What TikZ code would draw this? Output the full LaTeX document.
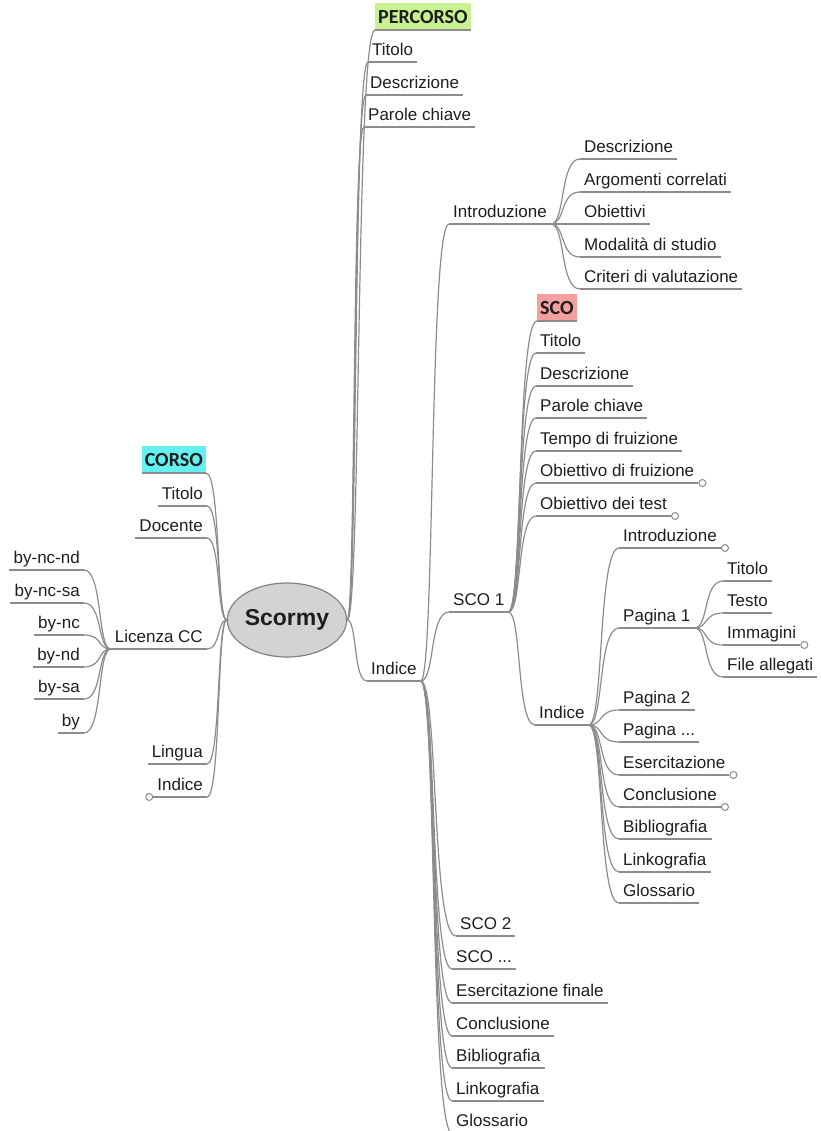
\documentclass[tikz,border=0pt]{standalone}
\usepackage{fontspec}
\setmainfont{Liberation Sans}
\newfontfamily\hlfont{Carlito}
\usetikzlibrary{calc,shapes.geometric}
\definecolor{ln}{RGB}{140,140,140}
\definecolor{txt}{RGB}{30,30,30}
\definecolor{hlgreen}{RGB}{200,242,145}
\definecolor{hlcyan}{RGB}{100,240,240}
\definecolor{hlpink}{RGB}{244,160,160}
\definecolor{ellfill}{RGB}{211,211,211}
\definecolor{ellline}{RGB}{130,130,130}
\newcommand\linkto[2]{\draw[br] (#1) .. controls ($(#1)!0.5!(#1-|#2)$) and ($(#1|-#2)!0.3!(#2)$) .. (#2);}
\begin{document}
\begin{tikzpicture}[x=1pt,y=-1pt,
 topic/.style={inner xsep=4pt,inner ysep=0pt,text height=12pt,text depth=6pt,text=txt,font=\fontsize{17}{20}\selectfont},
 hl/.style={inner xsep=3pt,inner ysep=0pt,text height=21pt,text depth=6pt,text=txt,font=\hlfont\bfseries\fontsize{20}{24}\selectfont},
 br/.style={draw=ln,line width=1.2pt},
 ul/.style={draw=ln,line width=1.2pt},
 dot/.style={circle,draw=ln,fill=white,line width=1pt,inner sep=0pt,minimum size=7pt}]
\useasboundingbox (0,0) rectangle (820,1131);

% root
\node[ellipse,draw=ellline,fill=ellfill,line width=1.2pt,minimum width=106pt,minimum height=74pt,inner sep=0pt,text=txt,font=\bfseries\fontsize{23}{26}\selectfont] (root) at (287,620) {Scormy};

% left side
\node[hl,fill=hlcyan,anchor=south east] (corso) at (206,473) {CORSO};
\node[topic,anchor=south east] (ctit) at (207,506) {Titolo};
\node[topic,anchor=south east] (cdoc) at (207,538) {Docente};
\node[topic,anchor=south east] (lic) at (207,649) {Licenza CC};
\node[topic,anchor=south east] (ling) at (207,764) {Lingua};
\node[topic,anchor=south east] (cind) at (207,797) {Indice};

\node[topic,anchor=south east] (l1) at (84,570) {by-nc-nd};
\node[topic,anchor=south east] (l2) at (84,603) {by-nc-sa};
\node[topic,anchor=south east] (l3) at (84,635) {by-nc};
\node[topic,anchor=south east] (l4) at (84,667) {by-nd};
\node[topic,anchor=south east] (l5) at (84,699) {by-sa};
\node[topic,anchor=south east] (l6) at (84,733) {by};

% right side: percorso
\node[hl,fill=hlgreen,anchor=south west] (perc) at (375,30) {PERCORSO};
\node[topic,anchor=south west] (ptit) at (368,62) {Titolo};
\node[topic,anchor=south west] (pdes) at (366,95) {Descrizione};
\node[topic,anchor=south west] (ppar) at (364,127) {Parole chiave};

% main indice
\node[topic,anchor=south west] (mind) at (367,681) {Indice};

\node[topic,anchor=south west] (intro) at (449,224) {Introduzione};
\node[topic,anchor=south west] (sco1) at (449,612) {SCO 1};
\node[topic,anchor=south west] (sco2) at (456,936) {SCO 2};
\node[topic,anchor=south west] (scod) at (452,969) {SCO ...};
\node[topic,anchor=south west] (esf) at (452,1003) {Esercitazione finale};
\node[topic,anchor=south west] (con) at (452,1036) {Conclusione};
\node[topic,anchor=south west] (bib) at (452,1068) {Bibliografia};
\node[topic,anchor=south west] (lnk) at (452,1101) {Linkografia};
\node[topic,anchor=south west] (glo) at (452,1133) {Glossario};

% introduzione children
\node[topic,anchor=south west] (i1) at (580,159) {Descrizione};
\node[topic,anchor=south west] (i2) at (580,192) {Argomenti correlati};
\node[topic,anchor=south west] (i3) at (580,224) {Obiettivi};
\node[topic,anchor=south west] (i4) at (580,257) {Modalità di studio};
\node[topic,anchor=south west] (i5) at (580,289) {Criteri di valutazione};

% sco 1 children
\node[hl,fill=hlpink,anchor=south west] (sco) at (537,321) {SCO};
\node[topic,anchor=south west] (s1) at (536,353) {Titolo};
\node[topic,anchor=south west] (s2) at (536,386) {Descrizione};
\node[topic,anchor=south west] (s3) at (536,418) {Parole chiave};
\node[topic,anchor=south west] (s4) at (536,451) {Tempo di fruizione};
\node[topic,anchor=south west] (s5) at (536,483) {Obiettivo di fruizione};
\node[topic,anchor=south west] (s6) at (536,516) {Obiettivo dei test};
\node[topic,anchor=south west] (sind) at (535,725) {Indice};

% sco 1 indice children
\node[topic,anchor=south west] (t1) at (619,548) {Introduzione};
\node[topic,anchor=south west] (pag1) at (619,628) {Pagina 1};
\node[topic,anchor=south west] (t2) at (619,710) {Pagina 2};
\node[topic,anchor=south west] (t3) at (619,742) {Pagina ...};
\node[topic,anchor=south west] (t4) at (619,775) {Esercitazione};
\node[topic,anchor=south west] (t5) at (619,807) {Conclusione};
\node[topic,anchor=south west] (t6) at (619,839) {Bibliografia};
\node[topic,anchor=south west] (t7) at (619,872) {Linkografia};
\node[topic,anchor=south west] (t8) at (619,903) {Glossario};

% pagina 1 children
\node[topic,anchor=south west] (p1) at (723,581) {Titolo};
\node[topic,anchor=south west] (p2) at (723,613) {Testo};
\node[topic,anchor=south west] (p3) at (723,645) {Immagini};
\node[topic,anchor=south west] (p4) at (723,677) {File allegati};

% underlines
\foreach \n in {corso,ctit,cdoc,lic,ling,cind,l1,l2,l3,l4,l5,l6,perc,ptit,pdes,ppar,mind,intro,sco1,sco2,scod,esf,con,bib,lnk,glo,i1,i2,i3,i4,i5,sco,s1,s2,s3,s4,s5,s6,sind,t1,pag1,t2,t3,t4,t5,t6,t7,t8,p1,p2,p3,p4}
  \draw[ul] (\n.south west) -- (\n.south east);

% connectors left
\foreach \n in {corso,ctit,cdoc,lic,ling,cind} {\linkto{root.west}{\n.south east}}
\foreach \n in {l1,l2,l3,l4,l5,l6} {\linkto{lic.south west}{\n.south east}}

% connectors right
\foreach \n in {perc,ptit,pdes,ppar,mind} {\linkto{root.east}{\n.south west}}
\foreach \n in {intro,sco1,sco2,scod,esf,con,bib,lnk,glo} {\linkto{mind.south east}{\n.south west}}
\foreach \n in {i1,i2,i3,i4,i5} {\linkto{intro.south east}{\n.south west}}
\foreach \n in {sco,s1,s2,s3,s4,s5,s6,sind} {\linkto{sco1.south east}{\n.south west}}
\foreach \n in {t1,pag1,t2,t3,t4,t5,t6,t7,t8} {\linkto{sind.south east}{\n.south west}}
\foreach \n in {p1,p2,p3,p4} {\linkto{pag1.south east}{\n.south west}}

% collapse markers
\node[dot,anchor=east] (dcind) at (cind.south west) {};
\node[dot,anchor=west] (ds5) at (s5.south east) {};
\node[dot,anchor=west] (ds6) at (s6.south east) {};
\node[dot,anchor=west] (dt1) at (t1.south east) {};
\node[dot,anchor=west] (dt4) at (t4.south east) {};
\node[dot,anchor=west] (dt5) at (t5.south east) {};
\node[dot,anchor=west] (dp3) at (p3.south east) {};
\end{tikzpicture}
\end{document}
